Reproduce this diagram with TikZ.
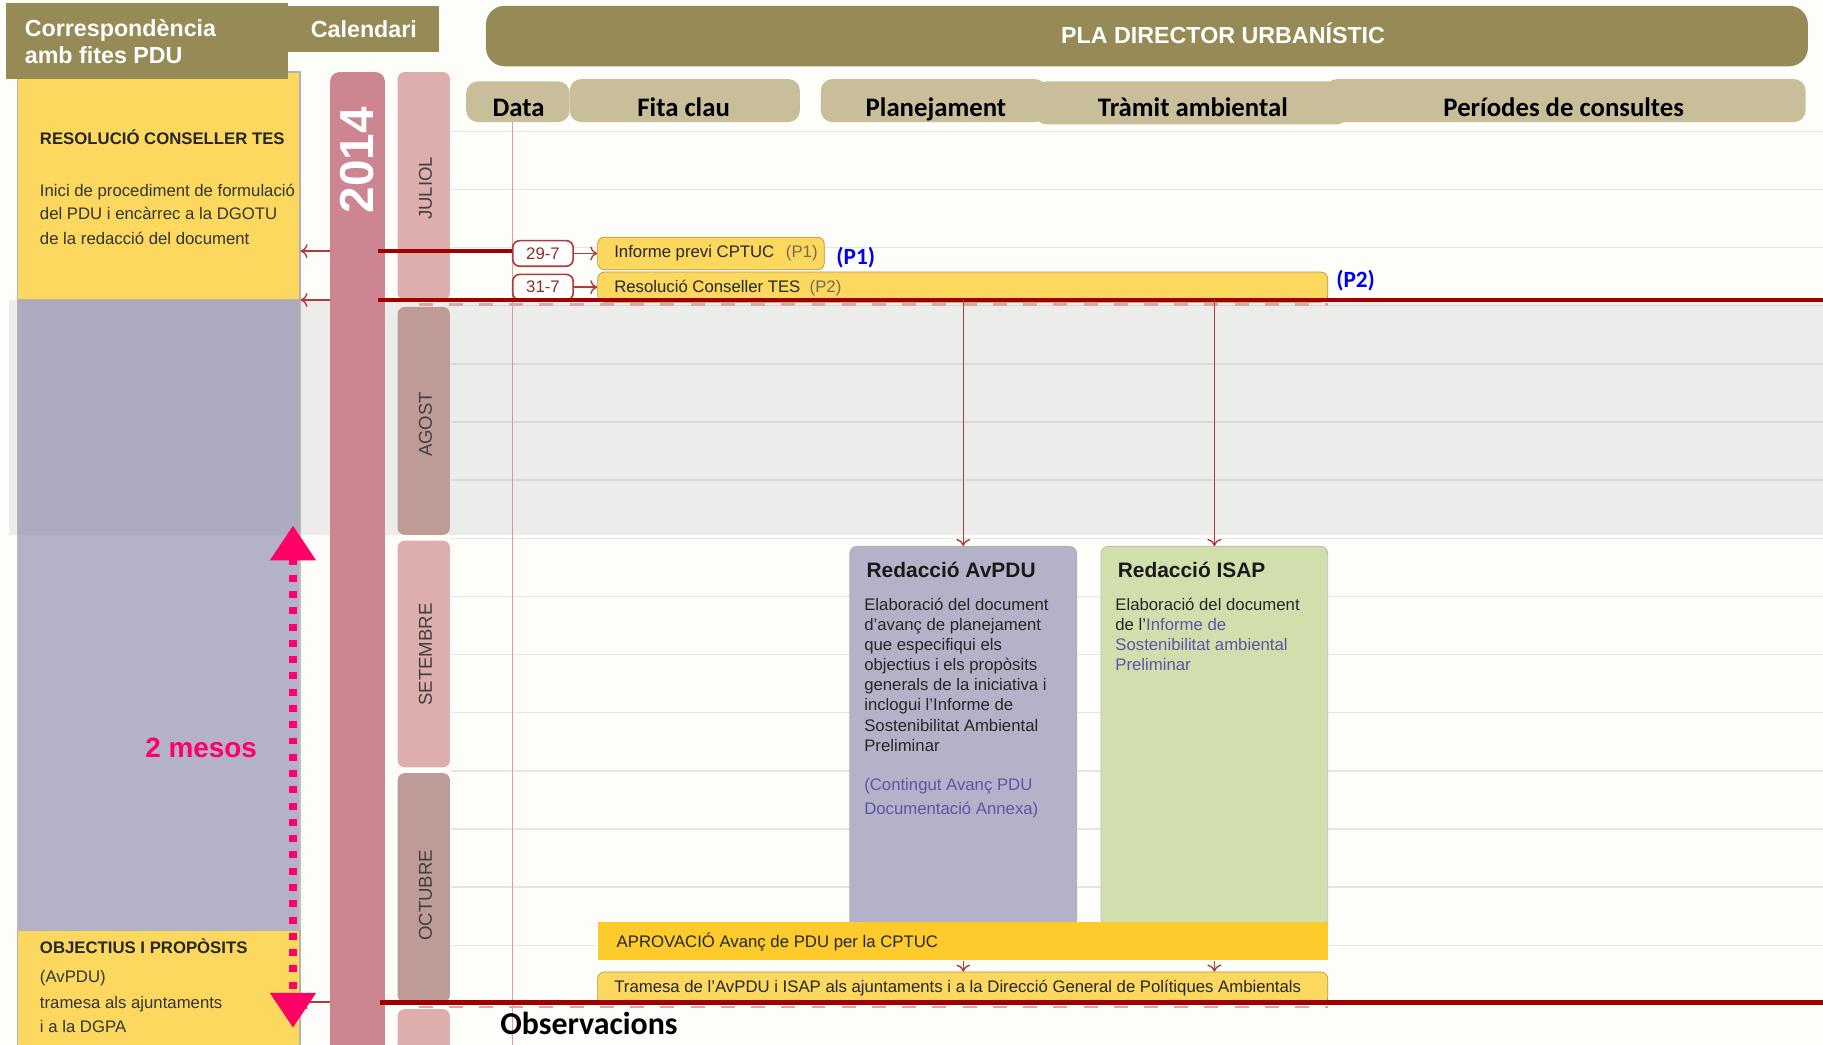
\documentclass[tikz,border=0pt]{standalone}
\usepackage{fontspec}
\setmainfont{Liberation Sans}
\newfontfamily\calfont{Carlito}
\usepackage{xcolor}
\definecolor{pagebg}{HTML}{FDFDFA}
\definecolor{hdrolive}{HTML}{968A56}
\definecolor{coltan}{HTML}{C8BF9A}
\definecolor{yel}{HTML}{FCD95E}
\definecolor{gold}{HTML}{FDCB2B}
\definecolor{lav}{HTML}{B4B2C9}
\definecolor{grn}{HTML}{D0DFAB}
\definecolor{yearrose}{HTML}{CC8591}
\definecolor{mlight}{HTML}{DDAEAB}
\definecolor{mdark}{HTML}{BF9B97}
\definecolor{darkred}{HTML}{A00000}
\definecolor{arrred}{HTML}{B23A3A}
\definecolor{magen}{HTML}{FF0066}
\definecolor{pblue}{HTML}{0000EE}
\definecolor{lblue}{HTML}{5B55A8}
\definecolor{gridgray}{HTML}{E6E6E6}
\definecolor{rulepink}{HTML}{D9A0A0}
\definecolor{tagbrown}{HTML}{7A6A50}
\usetikzlibrary{positioning,fit,calc,arrows.meta}

\tikzset{
	hdr/.style={fill=hdrolive, inner sep=0},
	hdrtext/.style={text=white, inner sep=0, font=\bfseries\fontsize{10}{11.5}\selectfont},
	coltab/.style={fill=coltan, rounded corners=5pt, inner sep=0},
	coltext/.style={anchor=base, inner sep=0, font=\calfont\bfseries\fontsize{11.5}{13}\selectfont},
	gridline/.style={draw=gridgray, line width=0.6pt},
	datarule/.style={draw=rulepink, line width=0.5pt},
	leftbox/.style={fill=yel, draw=gray!60, line width=0.5pt, inner sep=0},
	boxtitle/.style={anchor=base west, inner sep=0, text=black!85, font=\bfseries\fontsize{7.2}{9}\selectfont},
	boxbody/.style={anchor=base west, inner sep=0, text=black!80, font=\fontsize{7.2}{9}\selectfont},
	monthbar/.style={rounded corners=3pt, inner sep=0},
	monthtext/.style={rotate=90, inner sep=0, text=black!75, font=\fontsize{8}{9}\selectfont},
	datebox/.style={draw=arrred, line width=0.7pt, fill=white, rounded corners=3pt, text=arrred!80!black,
		minimum width=26pt, minimum height=11pt, inner sep=0, font=\fontsize{7.2}{8}\selectfont},
	fitabar/.style={fill=yel, draw=yel!70!black, line width=0.3pt, rounded corners=3pt, inner sep=0},
	bartext/.style={anchor=west, inner sep=0, text=black!85, font=\fontsize{7.2}{8}\selectfont},
	ptag/.style={text=pblue, inner sep=0, font=\calfont\bfseries\fontsize{10}{11}\selectfont},
	link/.style={draw=arrred, line width=0.6pt, -{To[length=3pt,width=6pt]}},
	redrule/.style={draw=darkred, line width=2pt},
	tickdash/.style={draw=arrred!45, line width=1pt, dash pattern=on 6pt off 7pt},
	cardtitle/.style={anchor=base west, inner sep=0, text=black!90, font=\bfseries\fontsize{9}{10}\selectfont},
	cardbody/.style={anchor=north west, align=left, inner sep=0, text=black!85, font=\fontsize{7.2}{8.65}\selectfont},
}

\begin{document}
\begin{tikzpicture}[x=0.5pt,y=-0.5pt]
	% page and grid
	\fill[pagebg] (0,0) rectangle (1568,898);
	\useasboundingbox (0,0) rectangle (1568,898);
	\foreach \y in {113,163,...,863}
		\draw[gridline] (388,\y) -- (1568,\y);
	\draw[datarule] (441,105) -- (441,905);

	% left column
	\node[fit={(15,258) (258,800)}, fill=lav, draw=gray!50, line width=0.5pt, inner sep=0] (lavzone) {};
	\node[fit={(15,62) (258,258)}, leftbox] (res) {};
	\begin{scope}
		\clip (15,62) rectangle (253,258);
		\node[boxtitle] (restitle) at (34,124) {RESOLUCIÓ CONSELLER TES};
		\node[boxbody] (resline1) at (34,169) {Inici de procediment de formulació};
		\node[boxbody] (resline2) at (34,189) {del PDU i encàrrec a la DGOTU};
		\node[boxbody] (resline3) at (34,210) {de la redacció del document};
	\end{scope}
	\node[fit={(15,800) (258,910)}, leftbox] (obj) {};
	\node[boxtitle] (objtitle) at (34,820) {OBJECTIUS I PROPÒSITS};
	\node[boxbody] (objline1) at (34,845) {(AvPDU)};
	\node[boxbody] (objline2) at (34,867) {tramesa als ajuntaments};
	\node[boxbody] (objline3) at (34,888) {i a la DGPA};

	% grey band over August
	\fill[gray, fill opacity=0.13] (8,258) rectangle (1568,460);

	% headers
	\node[fit={(5,3) (248,68)}, hdr] (corr) {};
	\node[hdrtext, anchor=west, align=left] (corrtxt) at (21,36) {Correspondència\\amb fites PDU};
	\node[fit={(248,5) (378,45)}, hdr] (cal) {};
	\node[hdrtext] (caltxt) at (cal.center) {Calendari};
	\node[fit={(418,5) (1555,57)}, hdr, rounded corners=8pt] (pla) {};
	\node[hdrtext] (platxt) at (1052,29) {PLA DIRECTOR URBANÍSTIC};
	\foreach \name/\xa/\ya/\xb/\yb/\tx/\label in {cdata/401/70/490/105/446/Data,
			cfita/490/68/688/105/588/Fita clau, cplan/706/68/900/105/805/Planejament,
			cper/1140/68/1553/105/1345/Períodes de consultes, ctram/890/70/1160/107/1026/Tràmit ambiental} {
		\node[fit={(\xa,\ya) (\xb,\yb)}, coltab] (\name) {};
		\node[coltext] (\name txt) at (\tx,100) {\label};
	}

	% calendar
	\node[fit={(284,62) (331,910)}, fill=yearrose, rounded corners=4pt, inner sep=0] (year) {};
	\node[rotate=90, text=white, inner sep=0, font=\bfseries\fontsize{20.5}{22}\selectfont] (yeartxt) at (307,138) {2014};
	\foreach \name/\top/\bot/\col/\ty in {JULIOL/62/258/mlight/162, AGOST/264/460/mdark/365,
			SETEMBRE/465/660/mlight/563, OCTUBRE/665/862/mdark/770} {
		\node[fit={(342,\top) (387,\bot)}, monthbar, fill=\col] (m\name) {};
		\node[monthtext] (m\name txt) at (366,\ty) {\name};
	}
	\node[fit={(342,868) (387,910)}, monthbar, fill=mlight] (mNOV) {};

	% key milestones
	\node[datebox] (d297) at (467,218) {29-7};
	\node[datebox] (d317) at (467,247) {31-7};
	\node[fit={(514,204) (709,232)}, fitabar] (p1) {};
	\node[bartext] (p1txt) at (528,218) {Informe previ CPTUC\hspace{5pt}\textcolor{tagbrown}{(P1)}};
	\node[fit={(514,234) (1142,260)}, fitabar] (p2) {};
	\node[bartext] (p2txt) at (528,248) {Resolució Conseller TES\hspace{4pt}\textcolor{tagbrown}{(P2)}};
	\node[ptag] (p1tag) at (736,222) {(P1)};
	\node[ptag] (p2tag) at (1166,241) {(P2)};
	\draw[link] (d297) -- (p1);
	\draw[link] (d317) -- (p2);

	% drafting boxes
	\node[fit={(731,470) (926,800)}, fill=lav, draw=gray!60, line width=0.4pt, rounded corners=3pt, inner sep=0] (avpdu) {};
	\node[cardtitle] (avtitle) at (745,497) {Redacció AvPDU};
	\node[cardbody] (avbody) at (743,514) {Elaboració del document\\d'avanç de planejament\\que especifiqui els\\objectius i els propòsits\\generals de la iniciativa i\\inclogui l'Informe de\\Sostenibilitat Ambiental\\Preliminar};
	\node[cardbody, text=lblue, font=\fontsize{7.2}{10.5}\selectfont] (avnote) at (743,669) {(Contingut Avanç PDU\\Documentació Annexa)};
	\node[fit={(947,470) (1142,800)}, fill=grn, draw=gray!50, line width=0.4pt, rounded corners=3pt, inner sep=0] (isap) {};
	\node[cardtitle] (istitle) at (961,497) {Redacció ISAP};
	\node[cardbody] (isbody) at (959,514) {Elaboració del document\\de l'\textcolor{lblue}{Informe de}\\\textcolor{lblue}{Sostenibilitat ambiental}\\\textcolor{lblue}{Preliminar}};

	\node[fit={(514,793) (1142,826)}, fill=gold, inner sep=0] (aprov) {};
	\node[bartext] (aprovtxt) at (530,810) {APROVACIÓ Avanç de PDU per la CPTUC};
	\node[fit={(514,836) (1142,864)}, fitabar] (tram) {};
	\node[bartext] (tramtxt) at (528,850) {Tramesa de l'AvPDU i ISAP als ajuntaments i a la Direcció General de Polítiques Ambientals};
	\draw[link] (aprov.south -| avpdu) -- (tram.north -| avpdu);
	\draw[link] (aprov.south -| isap) -- (tram.north -| isap);

	% red month limits
	\coordinate (r1) at (325,216);
	\coordinate (r2) at (325,258);
	\coordinate (r2end) at (1568,258);
	\coordinate (r3) at (327,862);
	\coordinate (r3end) at (1568,862);
	\draw[tickdash] (360,262) -- (1142,262);
	\draw[tickdash] (360,866) -- (1142,866);
	\draw[redrule] (r1) -- (d297.west |- r1);
	\draw[redrule] (r2) -- (r2end);
	\draw[redrule] (r3) -- (r3end);
	\draw[link] (avpdu.north |- r2) -- (avpdu.north);
	\draw[link] (isap.north |- r2) -- (isap.north);
	\draw[link] (year.west |- r1) -- (res.east |- r1);
	\draw[link] (year.west |- r2) -- (res.east |- r2);
	\draw[link] (year.west |- r3) -- (obj.east |- r3);

	% two months span
	\coordinate (mtop) at (252,452);
	\coordinate (mbot) at (252,884);
	\draw[magen, line width=3.3pt, dash pattern=on 3pt off 4pt,
		{Triangle[length=15pt,width=19pt]}-{Triangle[length=15pt,width=19pt]}] (mtop) -- (mbot);
	\node[text=magen, inner sep=0, font=\bfseries\fontsize{12}{14}\selectfont] (mesos) at (173,643) {2 mesos};

	\node[anchor=base west, inner sep=0, font=\calfont\bfseries\fontsize{13.7}{15}\selectfont] (obs) at (430,890) {Observacions};
\end{tikzpicture}
\end{document}
